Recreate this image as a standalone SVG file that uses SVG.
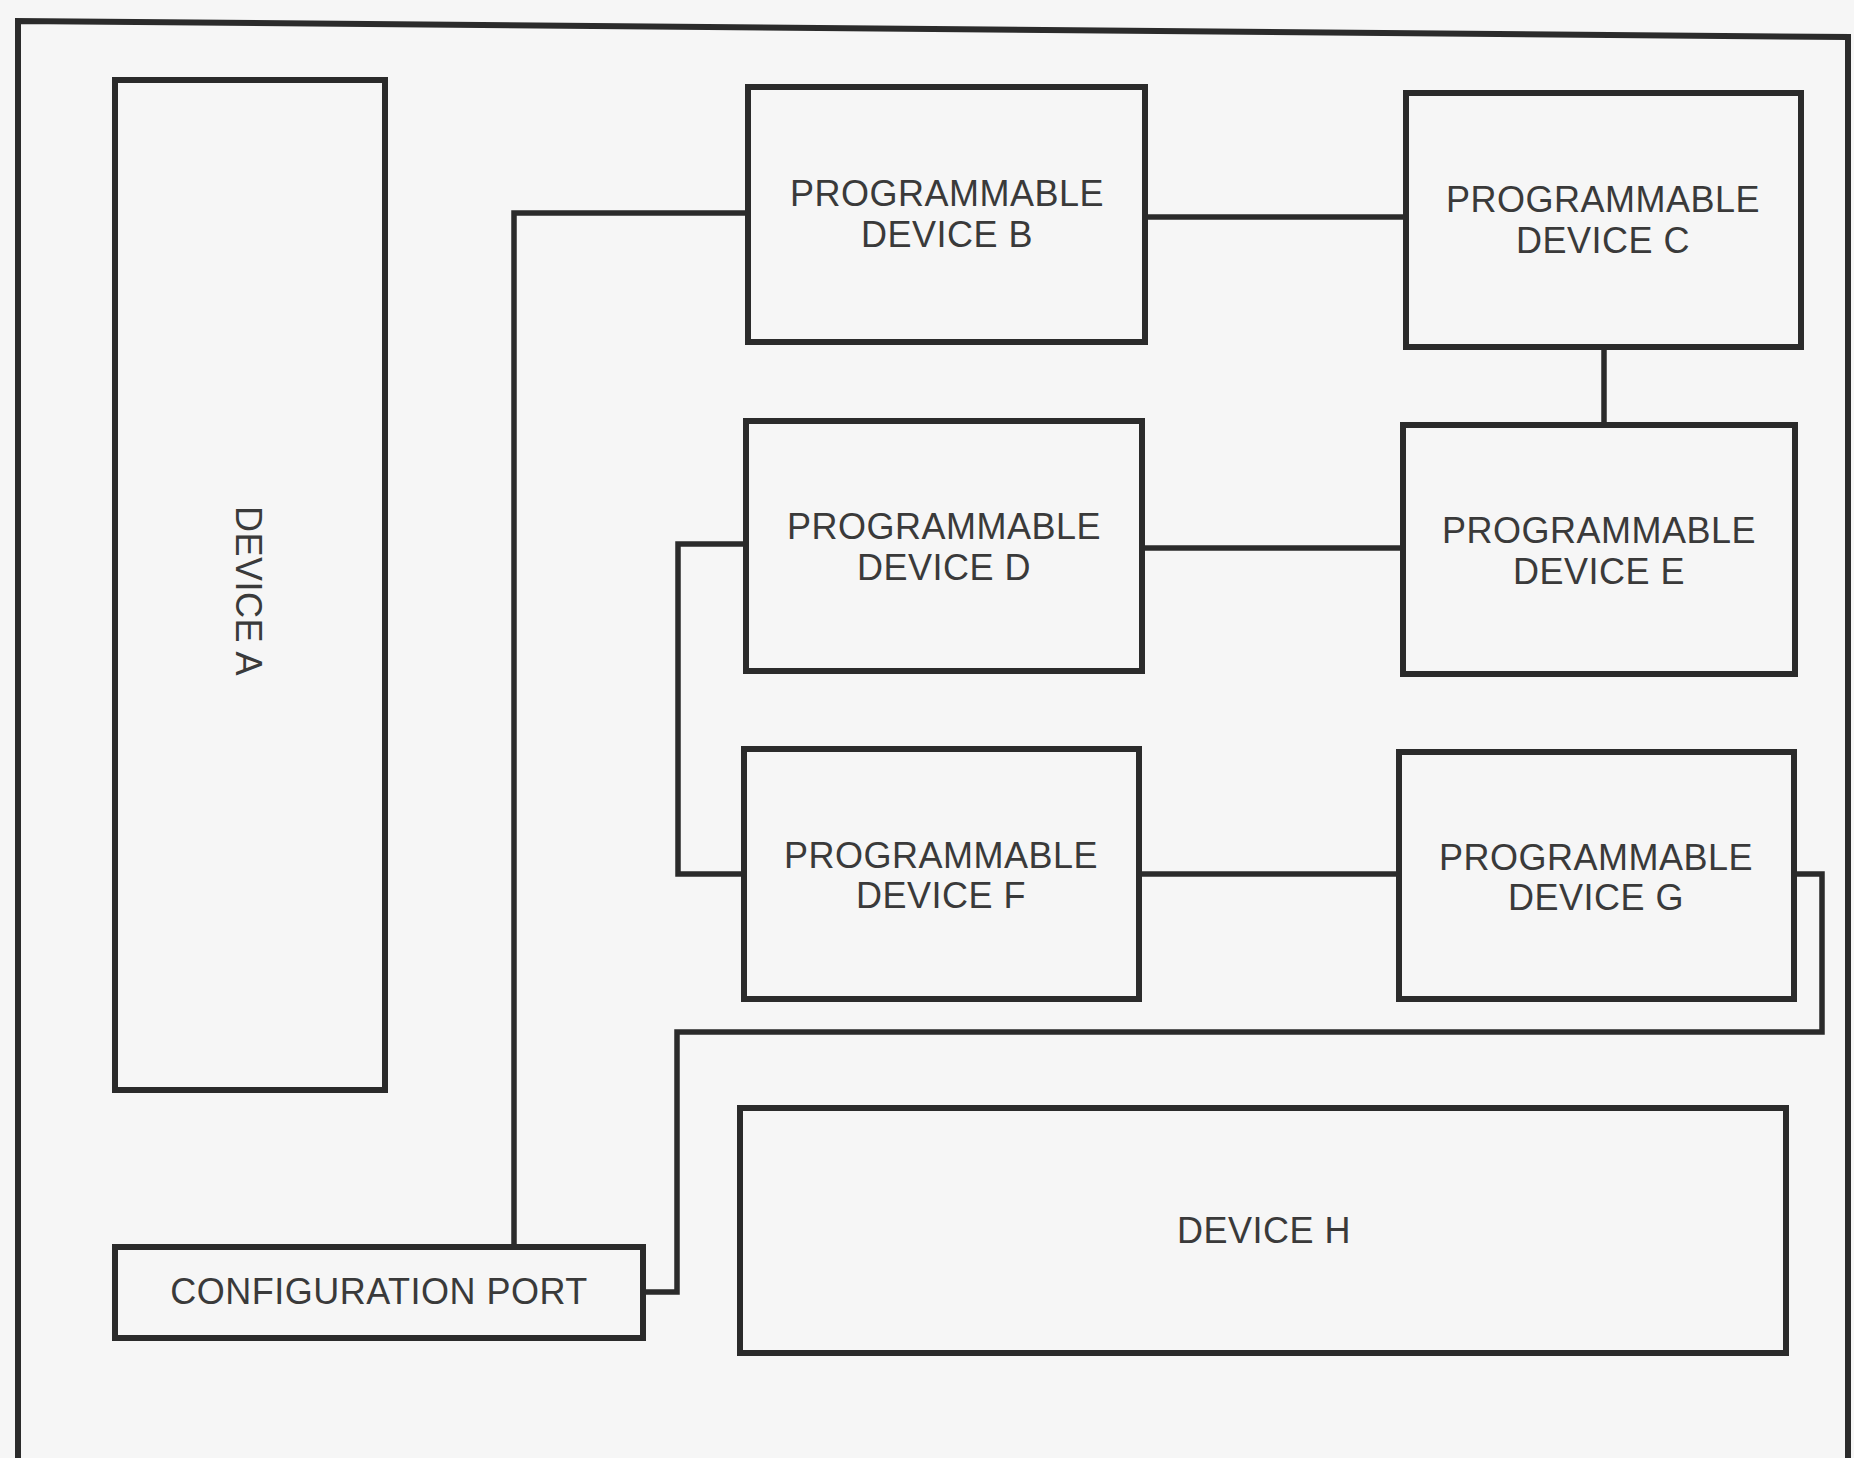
<svg xmlns="http://www.w3.org/2000/svg" width="1854" height="1458" viewBox="0 0 1854 1458">
<style>
.box{fill:none;stroke:#2b2b2b;stroke-width:6;stroke-linejoin:miter}
.conn{fill:none;stroke:#2b2b2b;stroke-width:5.5;stroke-linejoin:miter}
.lbl{font-family:"Liberation Sans",Arial,sans-serif;font-size:36px;fill:#3a3a3a;text-anchor:middle;letter-spacing:0.5px}
</style>
<rect x="0" y="0" width="1854" height="1458" fill="#f6f6f6"/>
<g id="frame">
<path class="box" d="M18,1460 L18,21 L1848,37 L1848,1460"/>
</g>
<g id="connectors">
<path class="conn" d="M514,1247 L514,213 L748,213"/>
<path class="conn" d="M1145,217 L1406,217"/>
<path class="conn" d="M1604,347 L1604,425"/>
<path class="conn" d="M1142,548 L1403,548"/>
<path class="conn" d="M746,544 L678,544 L678,874 L744,874"/>
<path class="conn" d="M1139,874 L1399,874"/>
<path class="conn" d="M1794,874 L1822,874 L1822,1032 L677,1032 L677,1292 L643,1292"/>
</g>
<g id="deviceA">
<rect class="box" x="115" y="80" width="270" height="1010"/>
<text class="lbl" transform="translate(249,591) rotate(90)" x="0" y="13">DEVICE A</text>
</g>
<g id="deviceB">
<rect class="box" x="748" y="87" width="397" height="255"/>
<text class="lbl" x="947" y="206">PROGRAMMABLE</text>
<text class="lbl" x="947" y="247">DEVICE B</text>
</g>
<g id="deviceC">
<rect class="box" x="1406" y="93" width="395" height="254"/>
<text class="lbl" x="1603" y="212">PROGRAMMABLE</text>
<text class="lbl" x="1603" y="253">DEVICE C</text>
</g>
<g id="deviceD">
<rect class="box" x="746" y="421" width="396" height="250"/>
<text class="lbl" x="944" y="539">PROGRAMMABLE</text>
<text class="lbl" x="944" y="580">DEVICE D</text>
</g>
<g id="deviceE">
<rect class="box" x="1403" y="425" width="392" height="249"/>
<text class="lbl" x="1599" y="543">PROGRAMMABLE</text>
<text class="lbl" x="1599" y="584">DEVICE E</text>
</g>
<g id="deviceF">
<rect class="box" x="744" y="749" width="395" height="250"/>
<text class="lbl" x="941" y="868">PROGRAMMABLE</text>
<text class="lbl" x="941" y="908">DEVICE F</text>
</g>
<g id="deviceG">
<rect class="box" x="1399" y="752" width="395" height="247"/>
<text class="lbl" x="1596" y="870">PROGRAMMABLE</text>
<text class="lbl" x="1596" y="910">DEVICE G</text>
</g>
<g id="deviceH">
<rect class="box" x="740" y="1108" width="1046" height="245"/>
<text class="lbl" x="1264" y="1243">DEVICE H</text>
</g>
<g id="configPort">
<rect class="box" x="115" y="1247" width="528" height="91"/>
<text class="lbl" x="379" y="1304">CONFIGURATION PORT</text>
</g>
</svg>
